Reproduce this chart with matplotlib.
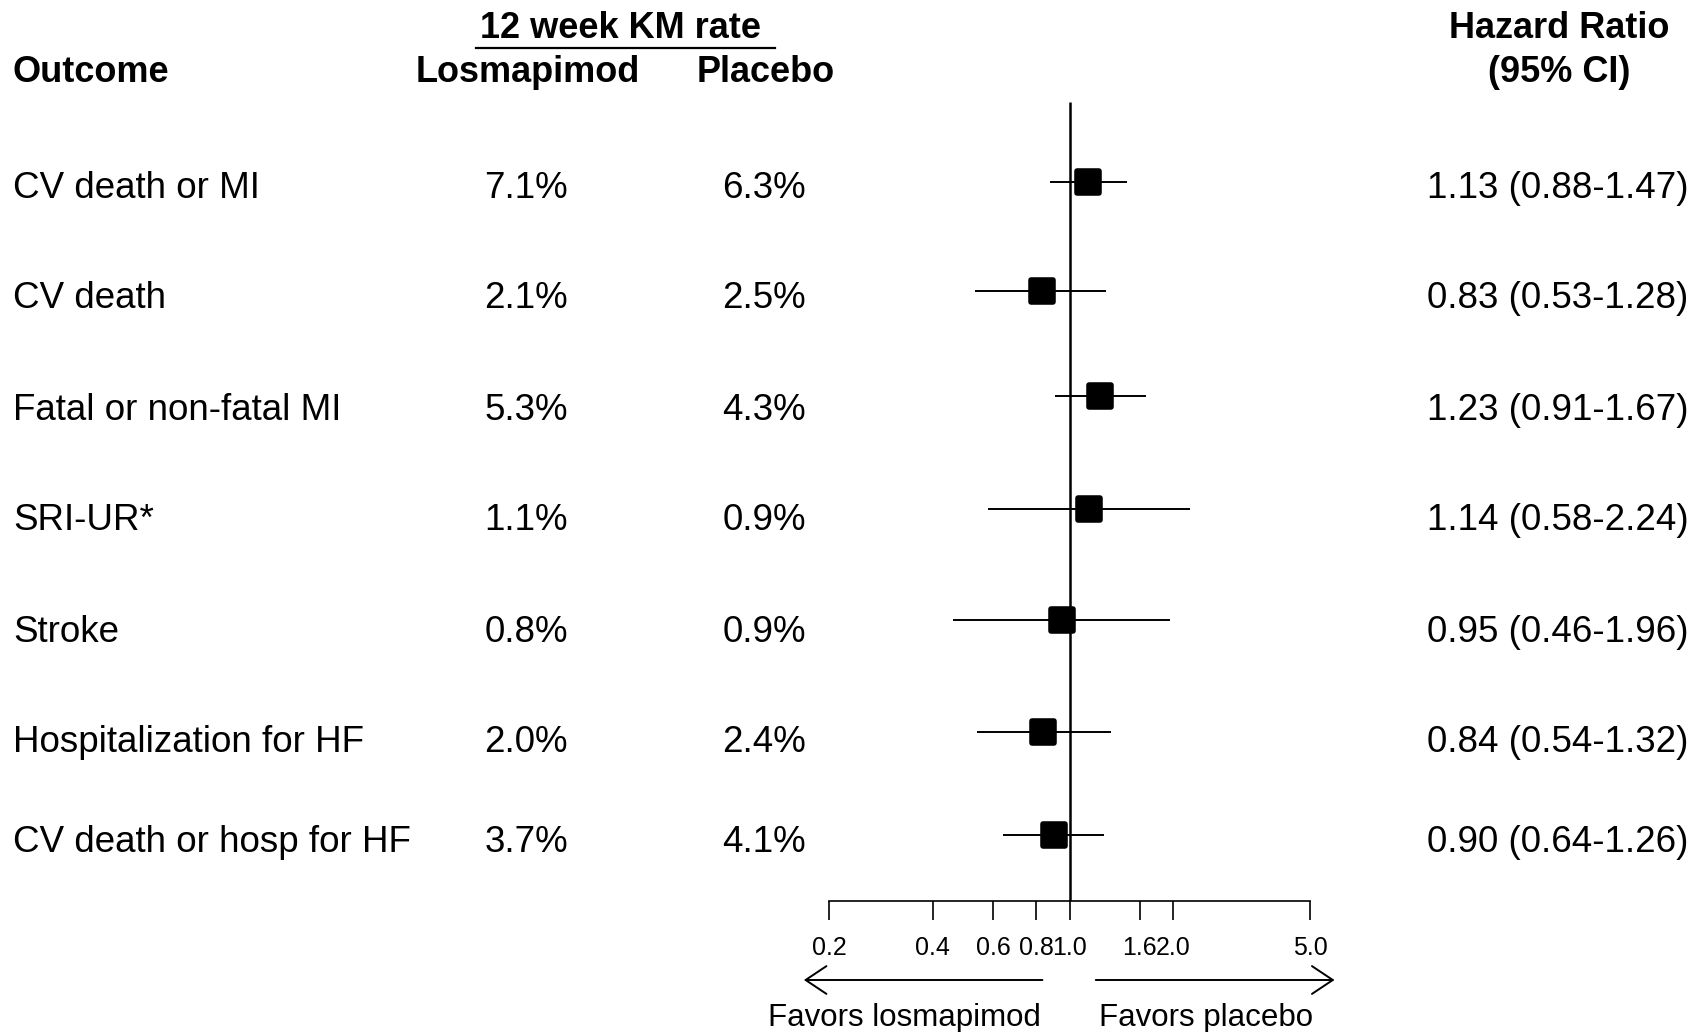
import numpy as np
import matplotlib
matplotlib.use("Agg")
import matplotlib.pyplot as plt
from matplotlib.markers import MarkerStyle

plt.rcParams["font.family"] = ["Liberation Sans", "DejaVu Sans"]

# data
outcomes = ["CV death or MI", "CV death", "Fatal or non-fatal MI", "SRI-UR*",
            "Stroke", "Hospitalization for HF", "CV death or hosp for HF"]
km_losmapimod = [7.1, 2.1, 5.3, 1.1, 0.8, 2.0, 3.7]
km_placebo = [6.3, 2.5, 4.3, 0.9, 0.9, 2.4, 4.1]
hr = [1.13, 0.83, 1.23, 1.14, 0.95, 0.84, 0.90]
ci_low = [0.88, 0.53, 0.91, 0.58, 0.46, 0.54, 0.64]
ci_high = [1.47, 1.28, 1.67, 2.24, 1.96, 1.32, 1.26]
ticks = [0.2, 0.4, 0.6, 0.8, 1.0, 1.6, 2.0, 5.0]

# layout (pixel rows of the 1707x1032 canvas)
W, H = 1707, 1032
row_y = [188, 298, 410, 521, 632, 743, 842]
mark_y = [182, 291, 396, 509, 620, 732, 835]
axis_y = 901
x_one = 1069.5          # pixel of HR = 1
px_dec = 344.2          # pixels per decade

fig = plt.figure(figsize=(W / 100, H / 100), dpi=100)

# text layer in pixel coordinates
tx = fig.add_axes([0, 0, 1, 1])
tx.set_xlim(0, W)
tx.set_ylim(H, 0)
tx.axis("off")

# forest layer, log scale, bottom spine is the HR axis
ax = fig.add_axes([0, (H - axis_y) / H, 1, axis_y / H])
ax.set_xscale("log")
ax.set_xlim(10 ** (-x_one / px_dec), 10 ** ((W - x_one) / px_dec))
ax.set_ylim(axis_y, 0)
ax.patch.set_alpha(0)
for s in ["top", "left", "right"]:
    ax.spines[s].set_visible(False)
ax.spines["bottom"].set_bounds(ticks[0], ticks[-1])
ax.spines["bottom"].set_linewidth(1.2)
ax.set_yticks([])
ax.set_xticks(ticks)
ax.set_xticks([], minor=True)
ax.set_xticklabels([f"{t:.1f}" for t in ticks])
ax.tick_params(axis="x", direction="out", length=14, width=1.2,
               labelsize=18, pad=11)

# reference line and estimates
ax.vlines(1.0, 102, axis_y, color="black", lw=1.8)
ax.hlines(mark_y, ci_low, ci_high, color="black", lw=1.4)
sq = MarkerStyle("s", joinstyle="round")
ax.plot(hr, mark_y, ls="none", marker=sq, ms=15.5, mew=4,
        color="black", mec="black")

# favours arrows below the axis
arr = dict(arrowstyle="->,head_length=1.5,head_width=1.0", lw=1.4, color="black")
ax.annotate("", xy=(0.166, 980), xytext=(0.85, 980), arrowprops=arr,
            annotation_clip=False)
ax.annotate("", xy=(6.0, 980), xytext=(1.17, 980), arrowprops=arr,
            annotation_clip=False)
tx.text(904, 1018, "Favors losmapimod", fontsize=22.5, ha="center", va="center")
tx.text(1206, 1018, "Favors placebo", fontsize=22.5, ha="center", va="center")

# headers
hdr = dict(fontsize=26, fontweight="bold", va="center")
tx.text(620, 29, "12 week KM rate", ha="center", **hdr)
tx.plot([476, 775], [48, 48], color="black", lw=1.6)
tx.text(13, 72, "Outcome", ha="left", **hdr)
tx.text(528, 72, "Losmapimod", ha="center", **hdr)
tx.text(766, 72, "Placebo", ha="center", **hdr)
tx.text(1559, 29, "Hazard Ratio", ha="center", **hdr)
tx.text(1559, 72, "(95% CI)", ha="center", **hdr)

# table rows
for i, y in enumerate(row_y):
    tx.text(13, y, outcomes[i], fontsize=26.5, ha="left", va="center")
    tx.text(526, y, f"{km_losmapimod[i]:.1f}%", fontsize=26.5, ha="center", va="center")
    tx.text(764, y, f"{km_placebo[i]:.1f}%", fontsize=26.5, ha="center", va="center")
    tx.text(1558, y, f"{hr[i]:.2f} ({ci_low[i]:.2f}-{ci_high[i]:.2f})",
            fontsize=26.5, ha="center", va="center")

fig.savefig("out.png", dpi=100)
